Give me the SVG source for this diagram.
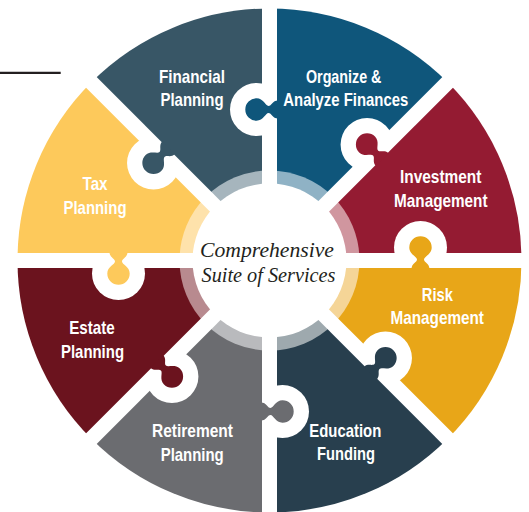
<svg xmlns="http://www.w3.org/2000/svg" xmlns:xlink="http://www.w3.org/1999/xlink" width="529" height="512" viewBox="0 0 529 512">
<style>
.lbl{font-family:"Liberation Sans",Arial,sans-serif;font-weight:bold;font-size:18.5px;fill:#fff;text-anchor:middle}
.ctr{font-family:"Liberation Serif","Times New Roman",serif;font-style:italic;font-size:22px;fill:#231f20;text-anchor:middle}
</style>
<defs>
<mask id="cut" maskUnits="userSpaceOnUse" x="-300" y="-300" width="600" height="600">
<rect x="-300" y="-300" width="600" height="600" fill="#fff"/>
<rect x="-7.5" y="-300" width="15" height="300" fill="#000"/>
<rect x="-7.5" y="-300" width="15" height="300" fill="#000" transform="rotate(-45)"/>
<circle cx="-13" cy="-151" r="26.5" fill="#000"/>
</mask>
<path id="sector" d="M0 0 L-178.19 -178.19 A252 252 0 0 1 0 -252 Z"/>
<path id="ring" d="M0 0 L-63.64 -63.64 A90 90 0 0 1 0 -90 Z"/>
<path id="knob" d="M8.5 -160 C3 -160 2 -154.5 -1 -154.5 C-4 -154.5 -6 -162.2 -13 -162.2 A11.2 11.2 0 0 0 -13 -139.8 C-6 -139.8 -4 -147.5 -1 -147.5 C2 -147.5 3 -142 8.5 -142 Z"/>
</defs>
<rect width="529" height="512" fill="#fff"/>
<g id="rule">
<line x1="0" y1="72.8" x2="60.7" y2="72.8" stroke="#231f20" stroke-width="2.3"/>
</g>
<g id="financial-planning">
<g transform="translate(269.5 260.5) rotate(0)">
<g mask="url(#cut)"><use xlink:href="#sector" fill="#385666"/><use xlink:href="#ring" fill="#a6b5bd"/></g>
<use xlink:href="#knob" transform="rotate(-45)" fill="#385666"/>
</g>
<text class="lbl" x="192" y="82.7" textLength="66" lengthAdjust="spacingAndGlyphs">Financial</text>
<text class="lbl" x="192" y="106.3" textLength="63" lengthAdjust="spacingAndGlyphs">Planning</text>
</g>
<g id="organize-analyze-finances">
<g transform="translate(269.5 260.5) rotate(45)">
<g mask="url(#cut)"><use xlink:href="#sector" fill="#0f567b"/><use xlink:href="#ring" fill="#8fb2c5"/></g>
<use xlink:href="#knob" transform="rotate(-45)" fill="#0f567b"/>
</g>
<text class="lbl" x="343.7" y="82.7" textLength="75.5" lengthAdjust="spacingAndGlyphs">Organize &amp;</text>
<text class="lbl" x="345.8" y="106.3" textLength="125" lengthAdjust="spacingAndGlyphs">Analyze Finances</text>
</g>
<g id="investment-management">
<g transform="translate(269.5 260.5) rotate(90)">
<g mask="url(#cut)"><use xlink:href="#sector" fill="#941b32"/><use xlink:href="#ring" fill="#d0969f"/></g>
<use xlink:href="#knob" transform="rotate(-45)" fill="#941b32"/>
</g>
<text class="lbl" x="440.7" y="183" textLength="81.5" lengthAdjust="spacingAndGlyphs">Investment</text>
<text class="lbl" x="440.8" y="206.5" textLength="93.5" lengthAdjust="spacingAndGlyphs">Management</text>
</g>
<g id="risk-management">
<g transform="translate(269.5 260.5) rotate(135)">
<g mask="url(#cut)"><use xlink:href="#sector" fill="#e8a618"/><use xlink:href="#ring" fill="#f5d597"/></g>
<use xlink:href="#knob" transform="rotate(-45)" fill="#e8a618"/>
</g>
<text class="lbl" x="437.3" y="300.7" textLength="31" lengthAdjust="spacingAndGlyphs">Risk</text>
<text class="lbl" x="437.2" y="324" textLength="93.5" lengthAdjust="spacingAndGlyphs">Management</text>
</g>
<g id="education-funding">
<g transform="translate(269.5 260.5) rotate(180)">
<g mask="url(#cut)"><use xlink:href="#sector" fill="#283f4e"/><use xlink:href="#ring" fill="#9ea9ae"/></g>
<use xlink:href="#knob" transform="rotate(-45)" fill="#283f4e"/>
</g>
<text class="lbl" x="345.3" y="436.7" textLength="72" lengthAdjust="spacingAndGlyphs">Education</text>
<text class="lbl" x="346" y="460" textLength="58" lengthAdjust="spacingAndGlyphs">Funding</text>
</g>
<g id="retirement-planning">
<g transform="translate(269.5 260.5) rotate(225)">
<g mask="url(#cut)"><use xlink:href="#sector" fill="#6b6c70"/><use xlink:href="#ring" fill="#b9babd"/></g>
<use xlink:href="#knob" transform="rotate(-45)" fill="#6b6c70"/>
</g>
<text class="lbl" x="192.5" y="437.3" textLength="81" lengthAdjust="spacingAndGlyphs">Retirement</text>
<text class="lbl" x="192.2" y="460.7" textLength="63" lengthAdjust="spacingAndGlyphs">Planning</text>
</g>
<g id="estate-planning">
<g transform="translate(269.5 260.5) rotate(270)">
<g mask="url(#cut)"><use xlink:href="#sector" fill="#6b131e"/><use xlink:href="#ring" fill="#b88a8f"/></g>
<use xlink:href="#knob" transform="rotate(-45)" fill="#6b131e"/>
</g>
<text class="lbl" x="92" y="334" textLength="45.5" lengthAdjust="spacingAndGlyphs">Estate</text>
<text class="lbl" x="92.5" y="357.5" textLength="63" lengthAdjust="spacingAndGlyphs">Planning</text>
</g>
<g id="tax-planning">
<g transform="translate(269.5 260.5) rotate(315)">
<g mask="url(#cut)"><use xlink:href="#sector" fill="#fdc95b"/><use xlink:href="#ring" fill="#fee2ab"/></g>
<use xlink:href="#knob" transform="rotate(-45)" fill="#fdc95b"/>
</g>
<text class="lbl" x="95" y="190" textLength="25" lengthAdjust="spacingAndGlyphs">Tax</text>
<text class="lbl" x="95" y="213.5" textLength="63" lengthAdjust="spacingAndGlyphs">Planning</text>
</g>
<g id="center">
<circle cx="269.5" cy="260.5" r="77" fill="#fff"/>
<text class="ctr" x="267" y="256.7" textLength="134" lengthAdjust="spacingAndGlyphs">Comprehensive</text>
<text class="ctr" x="268.5" y="281.7" textLength="134" lengthAdjust="spacingAndGlyphs">Suite of Services</text>
</g>
</svg>
